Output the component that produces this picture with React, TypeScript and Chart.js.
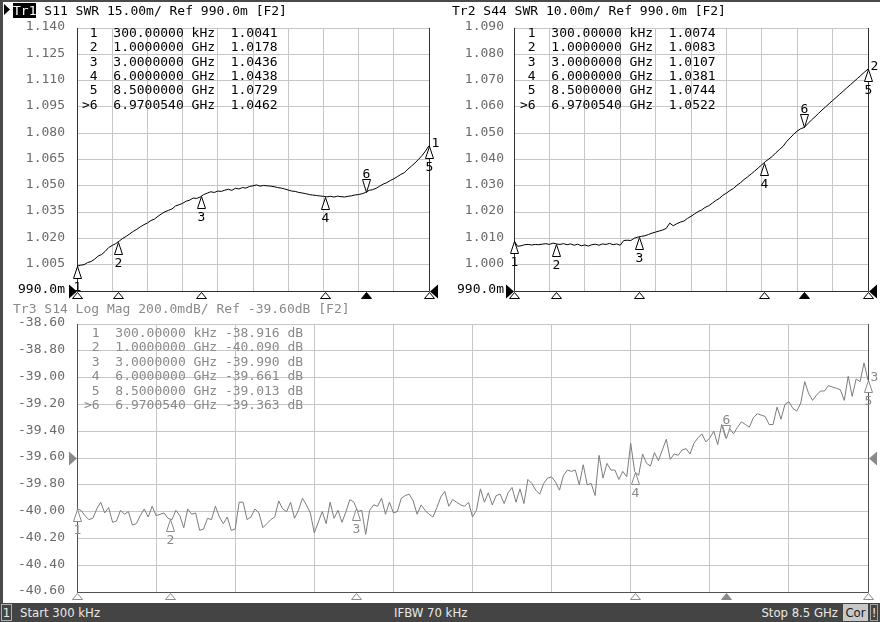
import React, { useEffect, useRef } from 'react';
import { Chart, registerables } from 'chart.js';

Chart.register(...registerables);

const W = 880;
const H = 622;

// Sweep definition (GHz)
const START_GHZ = 0.0003;
const STOP_GHZ = 8.5;
const X_DIVISIONS = 10;

// Tr1 S11 SWR (101 points)
const TR1_SWR = [
  1.0041, 1.0047, 1.005, 1.0062, 1.0068, 1.0081, 1.0099, 1.0108, 1.0126, 1.0148,
  1.016, 1.017, 1.0185, 1.02, 1.0212, 1.0226, 1.024, 1.0252, 1.0266, 1.0278,
  1.0288, 1.0302, 1.031, 1.0326, 1.034, 1.0352, 1.036, 1.0368, 1.0385, 1.0392,
  1.04, 1.0412, 1.0418, 1.043, 1.0428, 1.0436, 1.045, 1.0458, 1.0466, 1.0462,
  1.047, 1.0468, 1.0475, 1.048, 1.0474, 1.0486, 1.0482, 1.049, 1.0487, 1.0496,
  1.05, 1.0505, 1.0498, 1.0502, 1.05, 1.0498, 1.0495, 1.049, 1.0487, 1.0482,
  1.0476, 1.047, 1.0468, 1.0462, 1.0459, 1.0455, 1.045, 1.0447, 1.0445, 1.0442,
  1.044, 1.0437, 1.044, 1.0436, 1.0441, 1.0438, 1.0436, 1.044, 1.0443, 1.0448,
  1.045, 1.0455, 1.0462, 1.0474, 1.0478, 1.0486, 1.0498, 1.051, 1.0518, 1.053,
  1.054, 1.0552, 1.0565, 1.0575, 1.0595, 1.0612, 1.063, 1.065, 1.0672, 1.0698,
  1.0729,
];

// Tr2 S44 SWR (101 points)
const TR2_SWR = [
  1.0092, 1.007, 1.0072, 1.0076, 1.0077, 1.0075, 1.0077, 1.0076, 1.0078, 1.008,
  1.0077, 1.0082, 1.0079, 1.0077, 1.008, 1.0076, 1.0079, 1.0074, 1.0078, 1.0072,
  1.0075, 1.0071, 1.0076, 1.0078, 1.0074, 1.0079, 1.0077, 1.0081, 1.0076, 1.0079,
  1.0074, 1.0092, 1.0093, 1.0092, 1.0101, 1.0105, 1.0108, 1.011, 1.0115, 1.012,
  1.0124, 1.0128, 1.0132, 1.0138, 1.0158, 1.0148, 1.0156, 1.0162, 1.0166, 1.0176,
  1.0184, 1.0193, 1.0202, 1.0208, 1.0218, 1.0224, 1.0234, 1.0244, 1.0252, 1.0264,
  1.0272, 1.0282, 1.029, 1.0302, 1.0312, 1.0324, 1.0334, 1.0345, 1.0356, 1.0368,
  1.038, 1.0392, 1.0402, 1.0412, 1.0426, 1.0438, 1.045, 1.0468, 1.0482, 1.0496,
  1.0508, 1.0517, 1.0522, 1.0536, 1.055, 1.0562, 1.0575, 1.0588, 1.06, 1.0612,
  1.0624, 1.0636, 1.0648, 1.066, 1.0672, 1.0684, 1.0696, 1.0708, 1.072, 1.0732,
  1.0744,
];

// Tr3 S14 Log Mag dB (201 points)
const TR3_DB = [
  -39.98, -39.99, -40.03, -40.06, -40.05, -39.98, -39.93, -40.01, -39.97, -40.08,
  -40.07, -39.99, -40.02, -40.0, -40.1, -40.09, -40.03, -39.98, -40.04, -39.96,
  -40.03, -40.02, -40.01, -40.05, -40.06, -39.99, -40.03, -40.12, -39.98, -40.02,
  -40.01, -40.14, -40.13, -40.05, -40.06, -39.96, -40.04, -40.09, -40.04, -40.14,
  -40.13, -39.93, -39.93, -40.06, -40.04, -39.98, -40.01, -40.12, -40.09, -40.06,
  -40.04, -39.92, -39.98, -40.0, -39.93, -40.05, -39.99, -39.9, -39.95, -40.01,
  -40.16, -40.08, -40.0, -40.09, -39.93, -40.05, -39.99, -40.08, -40.0, -39.91,
  -39.93, -40.0, -39.99, -40.17, -39.99, -39.95, -39.96, -39.9, -40.02, -39.93,
  -40.01, -40.0, -39.9, -39.88, -39.87, -39.92, -40.02, -39.95, -39.99, -40.02,
  -40.04, -39.97, -39.89, -39.85, -39.96, -39.91, -39.93, -39.95, -39.96, -39.93,
  -40.04, -39.99, -39.83, -39.93, -39.86, -39.95, -39.88, -39.87, -39.94, -39.86,
  -39.82, -39.93, -39.83, -39.94, -39.76, -39.79, -39.84, -39.87, -39.79, -39.75,
  -39.74, -39.78, -39.84, -39.73, -39.69, -39.7, -39.69, -39.8, -39.65, -39.8,
  -39.79, -39.88, -39.58, -39.75, -39.64, -39.69, -39.69, -39.76, -39.7, -39.74,
  -39.49, -39.7, -39.73, -39.57, -39.64, -39.66, -39.56, -39.62, -39.54, -39.46,
  -39.61, -39.57, -39.58, -39.54, -39.53, -39.57, -39.49, -39.45, -39.42, -39.48,
  -39.45, -39.4, -39.5, -39.35, -39.45, -39.38, -39.42, -39.37, -39.33, -39.35,
  -39.37, -39.3, -39.27, -39.28, -39.29, -39.35, -39.35, -39.22, -39.31, -39.2,
  -39.18, -39.23, -39.25, -39.19, -39.03, -39.12, -39.17, -39.13, -39.1, -39.1,
  -39.06, -39.07, -39.08, -39.09, -39.17, -38.99, -39.14, -39.01, -39.03, -38.89,
  -39.02,
];

const TR1_TICKS = [0.99, 1.005, 1.02, 1.035, 1.05, 1.065, 1.08, 1.095, 1.11, 1.125, 1.14];
const TR1_TICK_LABELS = ['990.0m', '1.005', '1.020', '1.035', '1.050', '1.065', '1.080', '1.095', '1.110', '1.125', '1.140'];
const TR2_TICKS = [0.99, 1.0, 1.01, 1.02, 1.03, 1.04, 1.05, 1.06, 1.07, 1.08, 1.09];
const TR2_TICK_LABELS = ['990.0m', '1.000', '1.010', '1.020', '1.030', '1.040', '1.050', '1.060', '1.070', '1.080', '1.090'];
const TR3_TICKS = [-40.6, -40.4, -40.2, -40.0, -39.8, -39.6, -39.4, -39.2, -39.0, -38.8, -38.6];
const TR3_TICK_LABELS = ['-40.60', '-40.40', '-40.20', '-40.00', '-39.80', '-39.60', '-39.40', '-39.20', '-39.00', '-38.80', '-38.60'];

const MARKER_LABELS = ['1', '2', '3', '4', '5', '6'];
const MARKER_FREQS_GHZ = [0.0003, 1.0, 3.0, 6.0, 8.5, 6.970054];
const ACTIVE_MARKER_INDEX = 5;

const TR1_TABLE = [
  ' 1  300.00000 kHz  1.0041',
  ' 2  1.0000000 GHz  1.0178',
  ' 3  3.0000000 GHz  1.0436',
  ' 4  6.0000000 GHz  1.0438',
  ' 5  8.5000000 GHz  1.0729',
  '>6  6.9700540 GHz  1.0462',
];
const TR2_TABLE = [
  ' 1  300.00000 kHz  1.0074',
  ' 2  1.0000000 GHz  1.0083',
  ' 3  3.0000000 GHz  1.0107',
  ' 4  6.0000000 GHz  1.0381',
  ' 5  8.5000000 GHz  1.0744',
  '>6  6.9700540 GHz  1.0522',
];
const TR3_TABLE = [
  ' 1  300.00000 kHz -38.916 dB',
  ' 2  1.0000000 GHz -40.090 dB',
  ' 3  3.0000000 GHz -39.990 dB',
  ' 4  6.0000000 GHz -39.661 dB',
  ' 5  8.5000000 GHz -39.013 dB',
  '>6  6.9700540 GHz -39.363 dB',
];

const MONO = '"DejaVu Sans Mono", "Liberation Mono", monospace';
const NARROW = '"Liberation Sans Narrow", "DejaVu Sans Condensed", "Liberation Sans", sans-serif';

type PanelSpec = {
  values: number[];
  ticks: number[];
  tickLabels: string[];
  panelLeft: number;
  area: { left: number; top: number; right: number; bottom: number };
  labelPad: number;
  refValue: number;
  traceColor: string;
  markColor: string;
  frameColor: string;
  tickColor: string;
  refTickColor: string;
  refPointerColor: string;
  traceNo: string;
};

const PANELS: PanelSpec[] = [
  {
    values: TR1_SWR, ticks: TR1_TICKS, tickLabels: TR1_TICK_LABELS, panelLeft: 0,
    area: { left: 77, top: 28, right: 429, bottom: 291 }, labelPad: 12, refValue: 0.99,
    traceColor: '#000', markColor: '#000', frameColor: '#303030', tickColor: '#6a6a6a',
    refTickColor: '#000', refPointerColor: '#000', traceNo: '1',
  },
  {
    values: TR2_SWR, ticks: TR2_TICKS, tickLabels: TR2_TICK_LABELS, panelLeft: 440,
    area: { left: 514, top: 28, right: 868, bottom: 291 }, labelPad: 10, refValue: 0.99,
    traceColor: '#000', markColor: '#000', frameColor: '#303030', tickColor: '#6a6a6a',
    refTickColor: '#000', refPointerColor: '#000', traceNo: '2',
  },
  {
    values: TR3_DB, ticks: TR3_TICKS, tickLabels: TR3_TICK_LABELS, panelLeft: 0,
    area: { left: 77, top: 324, right: 868, bottom: 592 }, labelPad: 12, refValue: -39.6,
    traceColor: '#7c7c7c', markColor: '#8a8a8a', frameColor: '#505050', tickColor: '#6a6a6a',
    refTickColor: '#6a6a6a', refPointerColor: '#8a8a8a', traceNo: '3',
  },
];

function sweepFrequencies(n: number): number[] {
  const out: number[] = [];
  for (let i = 0; i < n; i++) out.push(START_GHZ + (i * (STOP_GHZ - START_GHZ)) / (n - 1));
  return out;
}

function makeOverlay(p: PanelSpec) {
  const n = p.values.length;
  const valueAt = (f: number) => {
    const t = ((f - START_GHZ) / (STOP_GHZ - START_GHZ)) * (n - 1);
    const i0 = Math.max(0, Math.min(n - 1, Math.floor(t)));
    const i1 = Math.min(n - 1, i0 + 1);
    const fr = Math.max(0, t - i0);
    return p.values[i0] * (1 - fr) + p.values[i1] * fr;
  };
  return {
    id: 'vnaOverlay',
    beforeDatasetsDraw(chart: any) {
      const { ctx, chartArea: a } = chart;
      ctx.save();
      ctx.strokeStyle = p.frameColor;
      ctx.lineWidth = 1;
      ctx.beginPath();
      ctx.moveTo(a.left + 0.5, a.top);
      ctx.lineTo(a.left + 0.5, a.bottom + 0.5);
      ctx.lineTo(a.right + 0.5, a.bottom + 0.5);
      ctx.lineTo(a.right + 0.5, a.top);
      ctx.stroke();
      ctx.restore();
    },
    afterDatasetsDraw(chart: any) {
      const { ctx, chartArea: a, scales } = chart;
      const xs = scales.x;
      const ys = scales.y;
      ctx.save();
      // reference level pointers
      const ry = Math.round(ys.getPixelForValue(p.refValue)) + 0.5;
      ctx.fillStyle = p.refPointerColor;
      ctx.beginPath();
      ctx.moveTo(a.left - 8, ry - 7);
      ctx.lineTo(a.left, ry);
      ctx.lineTo(a.left - 8, ry + 7);
      ctx.closePath();
      ctx.fill();
      ctx.beginPath();
      ctx.moveTo(a.right + 9, ry - 7);
      ctx.lineTo(a.right + 1, ry);
      ctx.lineTo(a.right + 9, ry + 7);
      ctx.closePath();
      ctx.fill();

      ctx.font = '13px ' + MONO;
      ctx.lineWidth = 1;
      MARKER_FREQS_GHZ.forEach((f, k) => {
        const px = Math.round(xs.getPixelForValue(f)) + 0.5;
        const py = Math.round(ys.getPixelForValue(valueAt(f))) + 0.5;
        const active = k === ACTIVE_MARKER_INDEX;
        ctx.strokeStyle = p.markColor;
        ctx.fillStyle = '#fff';
        ctx.beginPath();
        if (active) {
          ctx.moveTo(px - 4, py - 13);
          ctx.lineTo(px + 4, py - 13);
          ctx.lineTo(px, py);
        } else {
          ctx.moveTo(px, py);
          ctx.lineTo(px + 4, py + 12);
          ctx.lineTo(px - 4, py + 12);
        }
        ctx.closePath();
        ctx.fill();
        ctx.stroke();
        ctx.fillStyle = p.markColor;
        ctx.textAlign = 'center';
        ctx.textBaseline = 'alphabetic';
        if (active) {
          ctx.fillText(MARKER_LABELS[k], px, py - 15);
        } else {
          ctx.fillText(MARKER_LABELS[k], px, py + 24);
        }
        if (f === STOP_GHZ) {
          ctx.textAlign = 'left';
          ctx.textBaseline = 'middle';
          ctx.fillText(p.traceNo, px + 2, py - 3);
        }
        // marker indicator under the axis
        const sy = a.bottom + 1.5;
        ctx.beginPath();
        ctx.moveTo(px, sy);
        ctx.lineTo(px + 5, sy + 6);
        ctx.lineTo(px - 5, sy + 6);
        ctx.closePath();
        ctx.fillStyle = active ? p.markColor : '#fff';
        ctx.fill();
        ctx.stroke();
      });
      ctx.restore();
    },
  };
}

function PanelChart({ panel }: { panel: PanelSpec }) {
  const ref = useRef<HTMLCanvasElement | null>(null);
  useEffect(() => {
    const canvas = ref.current;
    if (!canvas) return;
    const freqs = sweepFrequencies(panel.values.length);
    const xGrid: number[] = [];
    for (let k = 0; k <= X_DIVISIONS; k++) xGrid.push(START_GHZ + (k * (STOP_GHZ - START_GHZ)) / X_DIVISIONS);
    const a = panel.area;
    const axisWidth = a.left - panel.panelLeft;
    const chart = new Chart(canvas, {
      type: 'line',
      data: {
        datasets: [
          {
            data: freqs.map((f, i) => ({ x: f, y: panel.values[i] })),
            borderColor: panel.traceColor,
            borderWidth: 1,
            pointRadius: 0,
            tension: 0,
            fill: false,
          },
        ],
      },
      options: {
        animation: false,
        responsive: false,
        maintainAspectRatio: false,
        devicePixelRatio: 1,
        events: [],
        layout: { padding: { left: panel.panelLeft, top: a.top, right: W - a.right, bottom: H - a.bottom } },
        plugins: { legend: { display: false }, tooltip: { enabled: false }, title: { display: false } },
        scales: {
          x: {
            type: 'linear',
            min: START_GHZ,
            max: STOP_GHZ,
            grid: { color: '#c6c6c6', lineWidth: 1, drawTicks: false },
            border: { display: false },
            ticks: { display: false },
            afterBuildTicks: (axis: any) => {
              axis.ticks = xGrid.map((v) => ({ value: v }));
            },
            afterFit: (axis: any) => {
              axis.height = 0;
            },
          },
          y: {
            type: 'linear',
            min: panel.ticks[0],
            max: panel.ticks[panel.ticks.length - 1],
            grid: { color: '#c6c6c6', lineWidth: 1, drawTicks: false },
            border: { display: false },
            ticks: {
              padding: panel.labelPad,
              labelOffset: -1,
              autoSkip: false,
              font: { family: MONO, size: 13 },
              color: (c: any) =>
                c.tick && Math.abs(c.tick.value - panel.refValue) < 1e-9 && panel.refTickColor !== panel.tickColor
                  ? panel.refTickColor
                  : panel.tickColor,
              callback: (_v: any, i: number) => panel.tickLabels[i],
            },
            afterBuildTicks: (axis: any) => {
              axis.ticks = panel.ticks.map((v) => ({ value: v }));
            },
            afterFit: (axis: any) => {
              axis.width = axisWidth;
            },
          },
        },
      } as any,
      plugins: [makeOverlay(panel) as any],
    });
    return () => chart.destroy();
  }, [panel]);
  return (
    <canvas
      ref={ref}
      width={W}
      height={H}
      style={{ position: 'absolute', left: 0, top: 0, width: W, height: H }}
    />
  );
}

const abs = (s: React.CSSProperties): React.CSSProperties => ({ position: 'absolute', ...s });

export default function App() {
  const monoText: React.CSSProperties = {
    fontFamily: MONO,
    fontSize: 13,
    whiteSpace: 'pre',
    margin: 0,
  };
  return (
    <div style={{ position: 'fixed', left: 0, top: 0, width: W, height: H, background: '#fff', overflow: 'hidden' }}>
      {PANELS.map((p, i) => (
        <PanelChart key={i} panel={p} />
      ))}

      {/* frame */}
      <div style={abs({ left: 0, top: 0, width: W, height: 2, background: '#4a4a4a' })} />
      <div style={abs({ left: 0, top: 0, width: 3, height: 603, background: '#4a4a4a' })} />

      {/* headers */}
      <div
        style={abs({ left: 4, top: 4, width: 6, height: 11, background: '#000', clipPath: 'polygon(0 0, 100% 50%, 0 100%)' })}
      />
      <div style={abs({ ...monoText, left: 13, top: 3, lineHeight: '15px', color: '#000' })}>
        <span style={{ background: '#000', color: '#fff' }}>Tr1</span>
        {' S11 SWR 15.00m/ Ref 990.0m [F2]'}
      </div>
      <div style={abs({ ...monoText, left: 452, top: 3, lineHeight: '15px', color: '#000' })}>
        {'Tr2 S44 SWR 10.00m/ Ref 990.0m [F2]'}
      </div>
      <div style={abs({ ...monoText, left: 13, top: 301, lineHeight: '15px', color: '#8a8a8a' })}>
        {'Tr3 S14 Log Mag 200.0mdB/ Ref -39.60dB [F2]'}
      </div>

      {/* marker tables */}
      <div style={abs({ ...monoText, left: 82, top: 26, lineHeight: '14.35px', color: '#000' })}>
        {TR1_TABLE.join('\n')}
      </div>
      <div style={abs({ ...monoText, left: 520, top: 26, lineHeight: '14.35px', color: '#000' })}>
        {TR2_TABLE.join('\n')}
      </div>
      <div style={abs({ ...monoText, left: 84, top: 326, lineHeight: '14.4px', color: '#8a8a8a' })}>
        {TR3_TABLE.join('\n')}
      </div>

      {/* status bar */}
      <div
        style={abs({
          left: 0,
          top: 603,
          width: W,
          height: 19,
          background: '#444',
          fontFamily: NARROW,
          fontSize: 13,
          color: '#e8e8e8',
          lineHeight: '19px',
          whiteSpace: 'pre',
        })}
      >
        <div
          style={abs({
            left: 1,
            top: 1,
            width: 11,
            height: 17,
            border: '1px solid #b0b0b0',
            boxSizing: 'border-box',
            textAlign: 'center',
            lineHeight: '15px',
          })}
        >
          1
        </div>
        <div style={abs({ left: 20, top: 0 })}>Start 300 kHz</div>
        <div style={abs({ left: 394, top: 0 })}>IFBW 70 kHz</div>
        <div style={abs({ right: 42, top: 0 })}>Stop 8.5 GHz</div>
        <div
          style={abs({
            left: 843,
            top: 1,
            width: 25,
            height: 17,
            background: '#c8c8c8',
            color: '#1a1a1a',
            textAlign: 'center',
            lineHeight: '17px',
          })}
        >
          Cor
        </div>
        <div
          style={abs({
            left: 870,
            top: 1,
            width: 8,
            height: 17,
            border: '1px solid #a0a0a0',
            boxSizing: 'border-box',
            textAlign: 'center',
            lineHeight: '15px',
          })}
        >
          !
        </div>
      </div>
    </div>
  );
}
